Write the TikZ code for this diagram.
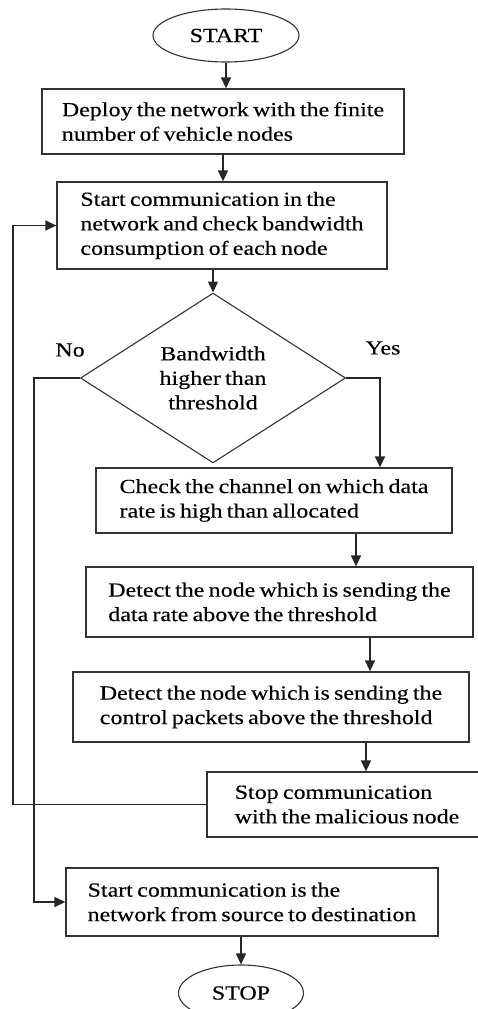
\documentclass[tikz,border=0pt]{standalone}
\usepackage{fontspec}
\setmainfont{Liberation Serif}[FakeStretch=1.2,WordSpace=0.7,FakeBold=0.3]
\usetikzlibrary{shapes,arrows.meta,positioning,shapes.geometric,calc}

\begin{document}
\begin{tikzpicture}[x=1pt,y=-1pt,
	>={Triangle[length=11pt,width=10pt]},
	every node/.style={font=\fontsize{20}{24.5}\selectfont},
	stepbox/.style={draw=black!80,line width=1.3pt,inner xsep=0pt,inner ysep=0pt,align=left},
	terminal/.style={draw=black!80,line width=1.1pt,ellipse,inner sep=0pt},
	flow/.style={->,draw=black!85,line width=1.4pt}]
			\useasboundingbox (0,0) rectangle (477,1009);
			%terminals
			\node[terminal,minimum width=146pt,minimum height=53pt](start) at (226,35.5){START};
			\node[terminal,minimum width=125pt,minimum height=56pt](stop) at (241,993){STOP};
			%steps
			\node[stepbox,minimum width=362pt,minimum height=65pt](deploy) at (223,121.5){Deploy the network with the finite\\number of vehicle nodes};
			\node[stepbox,minimum width=330pt,minimum height=87pt](startcomm) at (222,225.5){Start communication in the\\network and check bandwidth\\consumption of each node};
			\node[draw=black!80,line width=1.1pt,diamond,inner sep=0pt,align=center,minimum width=265pt,minimum height=157pt](decide) at (213,378){Bandwidth\\higher than\\threshold};
			\node[stepbox,minimum width=356pt,minimum height=65pt](check) at (274,500.5){Check the channel on which data\\rate is high than allocated};
			\node[stepbox,minimum width=387pt,minimum height=70pt](detdata) at (279.5,602){Detect the node which is sending the\\data rate above the threshold};
			\node[stepbox,minimum width=396pt,minimum height=70pt](detctrl) at (271,707){Detect the node which is sending the\\control packets above the threshold};
			\node[stepbox,minimum width=280pt,minimum height=65pt](stopcomm) at (347,804.5){Stop communication\\with the malicious node};
			\node[stepbox,minimum width=372pt,minimum height=68pt](startnet) at (252,902){Start communication is the\\network from source to destination};
			%labels
			\node(no) at (70,350){No};
			\node(yes) at (383,348){Yes};
			%lanes
			\coordinate (loopx) at (13,0);
			\coordinate (nox) at (34,0);
			\coordinate (yesx) at (380,0);
			\coordinate (ax1) at (356,0);
			\coordinate (ax2) at (370,0);
			\coordinate (ax3) at (366,0);
			%main arrows
			\draw[flow] (start.south) -- (start.south |- deploy.north);
			\draw[flow] (deploy.south) -- (deploy.south |- startcomm.north);
			\draw[flow] (decide.north |- startcomm.south) -- (decide.north);
			\draw[flow] (decide.east) -| (yesx |- check.north);
			\draw[flow] (ax1 |- check.south) -- (ax1 |- detdata.north);
			\draw[flow] (ax2 |- detdata.south) -- (ax2 |- detctrl.north);
			\draw[flow] (ax3 |- detctrl.south) -- (ax3 |- stopcomm.north);
			\draw[flow] (stop.north |- startnet.south) -- (stop.north);
			%back and no arrows
			\draw[flow] (stopcomm.west) -| (loopx |- startcomm.west) -- (startcomm.west);
			\draw[flow] (decide.west) -| (nox |- startnet.west) -- (startnet.west);
\end{tikzpicture}
\end{document}
